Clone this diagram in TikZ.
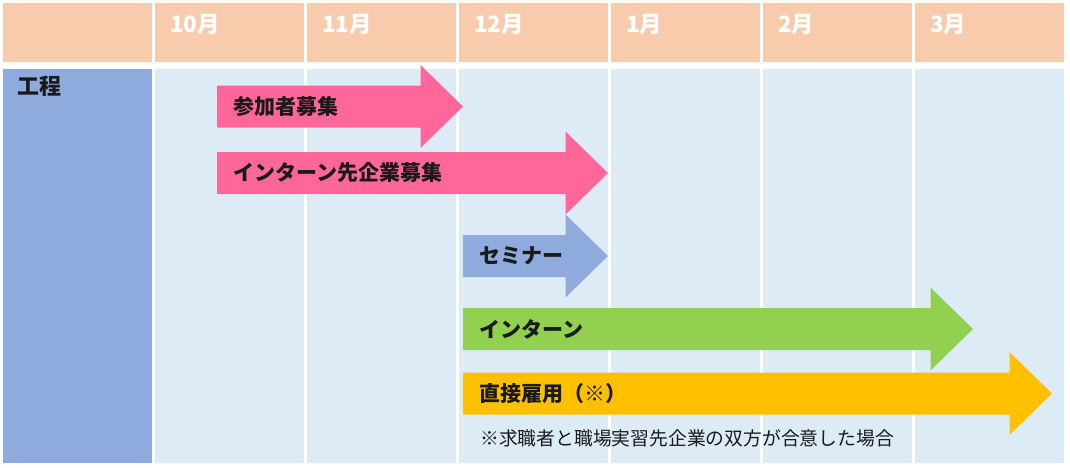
\documentclass[tikz,border=0pt]{standalone}
\usepackage{fontspec}
\setmainfont{Noto Sans CJK JP}
\definecolor{peach}{HTML}{F8CBAD}
\definecolor{cellblue}{HTML}{DDEBF7}
\definecolor{colblue}{HTML}{8FAADC}
\definecolor{pinkarrow}{HTML}{FF6699}
\definecolor{greenarrow}{HTML}{92D050}
\definecolor{orangearrow}{HTML}{FFC000}
\definecolor{textdark}{HTML}{1A1A1A}
\tikzset{
  hdrcell/.style={fill=peach},
  bodycell/.style={fill=cellblue},
  firstcol/.style={fill=colblue},
  monthlabel/.style={anchor=west, inner sep=0pt, text=white, font=\fontsize{22.5}{26}\selectfont\bfseries},
  tasklabel/.style={anchor=west, inner sep=0pt, text=textdark, font=\fontsize{21}{25}\selectfont\bfseries},
  notelabel/.style={anchor=west, inner sep=0pt, text=textdark, font=\fontsize{18.8}{22}\selectfont},
}
% #1 start x, #2 tip x, #3 centre y, #4 colour
\newcommand{\ganttarrow}[4]{%
  \fill[#4] ({#1},{#3-21}) -- ({#2-42.5},{#3-21}) -- ({#2-42.5},{#3-41.5})
    -- ({#2},{#3}) -- ({#2-42.5},{#3+41.5}) -- ({#2-42.5},{#3+21})
    -- ({#1},{#3+21}) -- cycle;}
\begin{document}
\begin{tikzpicture}[x=1pt,y=-1pt]
\fill[white] (0,0) rectangle (1070,467);
\useasboundingbox (0,0) rectangle (1070,467);
% header row
\fill[hdrcell] (3,3) rectangle (152,62);
\foreach \a/\b in {155/303.5, 306.5/455.5, 458.5/607.5, 610.5/759.5, 762.5/911.5, 914.5/1064}{
  \fill[hdrcell] (\a,3) rectangle (\b,62);
  \fill[bodycell] (\a,69) rectangle (\b,463);
}
% first column
\fill[firstcol] (3,69) rectangle (152,463);
% month labels
\node[monthlabel] (m10) at (170,24) {10月};
\node[monthlabel] (m11) at (322,24) {11月};
\node[monthlabel] (m12) at (474,24) {12月};
\node[monthlabel] (m1) at (626,24) {1月};
\node[monthlabel] (m2) at (778,24) {2月};
\node[monthlabel] (m3) at (930,24) {3月};
\node[tasklabel, font=\fontsize{22}{26}\selectfont\bfseries] (koutei) at (17,86) {工程};
% arrows
\ganttarrow{217}{463}{106.5}{pinkarrow}
\ganttarrow{217}{608}{173}{pinkarrow}
\ganttarrow{463}{608}{256}{colblue}
\ganttarrow{463}{973}{329}{greenarrow}
\ganttarrow{463}{1052}{393.5}{orangearrow}
% arrow labels
\node[tasklabel] (sanka) at (233,107) {参加者募集};
\node[tasklabel] (kigyo) at (233,173) {インターン先企業募集};
\node[tasklabel] (seminar) at (479,256) {セミナー};
\node[tasklabel] (intern) at (479,329) {インターン};
\node[tasklabel] (koyou) at (479,393.5) {直接雇用（※）};
\node[notelabel] (note) at (480,438) {※求職者と職場実習先企業の双方が合意した場合};
\end{tikzpicture}
\end{document}
